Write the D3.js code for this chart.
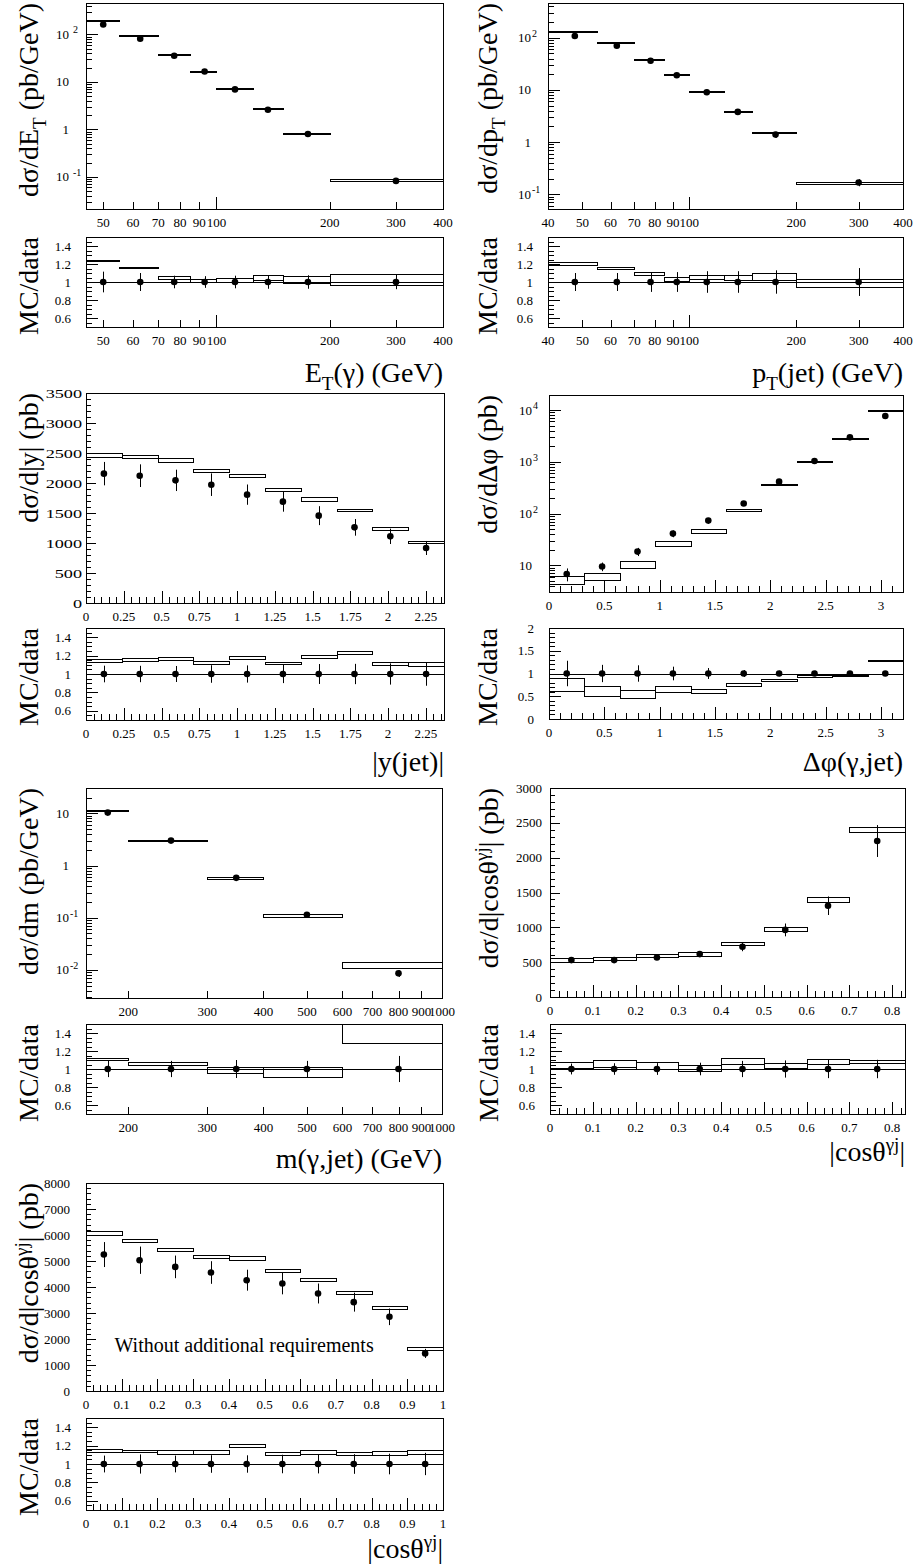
<!DOCTYPE html>
<html>
<head>
<meta charset="utf-8">
<script src="https://cdn.jsdelivr.net/npm/d3@7"></script>
<style>
  body { margin: 0; background: #fff; }
  svg { display: block; }
  text { font-family: "Liberation Serif", "Times New Roman", serif; fill: #000; }
</style>
</head>
<body>
<svg id="chart" width="918" height="1568"></svg>
<script>
// ---------- E_T(gamma) ----------
const etEdges = [45, 55, 70, 85, 100, 125, 150, 200, 400];
const etCentres = [50, 62.7, 77.2, 93, 112, 137, 175, 300];
const etData = [162, 81, 35.5, 16.6, 6.95, 2.59, 0.80, 0.082];
const etRelErr = [0.115, 0.10, 0.07, 0.065, 0.07, 0.075, 0.075, 0.08];
const etMcLo = [197, 95, 37.5, 16.9, 7.1, 2.68, 0.81, 0.081];
const etMcHi = [203, 99, 38.5, 17.3, 7.3, 2.76, 0.83, 0.089];
const etRatioLo = [1.232, 1.152, 1.033, 1.004, 1.004, 1.026, 0.993, 0.972];
const etRatioHi = [1.242, 1.162, 1.062, 1.035, 1.048, 1.080, 1.066, 1.092];
const etTickLabels = [50, 60, 70, 80, 90, 100, 200, 300, 400];

// ---------- p_T(jet) ----------
const ptEdges = [40, 55, 70, 85, 100, 125, 150, 200, 400];
const ptCentres = [47.6, 62.5, 77.8, 92.2, 112, 137, 175, 300];
const ptData = [108, 70.6, 36.4, 19.1, 9.04, 3.79, 1.39, 0.168];
const ptRelErr = [0.10, 0.10, 0.11, 0.11, 0.12, 0.12, 0.13, 0.155];
const ptMcLo = [128, 81, 38.8, 19.7, 9.4, 3.9, 1.49, 0.160];
const ptMcHi = [134, 83, 39.8, 20.3, 9.7, 4.02, 1.55, 0.174];
const ptRatioLo = [1.194, 1.146, 1.081, 1.011, 1.030, 1.019, 1.026, 0.939];
const ptRatioHi = [1.219, 1.164, 1.109, 1.055, 1.081, 1.073, 1.103, 1.037];
const ptTickLabels = [40, 50, 60, 70, 80, 90, 100, 200, 300, 400];

// ---------- |y(jet)| ----------
const yjEdges = [0, 0.237, 0.474, 0.711, 0.948, 1.185, 1.422, 1.659, 1.896, 2.133, 2.37];
const yjCentres = [0.1185, 0.3555, 0.5925, 0.8295, 1.0665, 1.3035, 1.5405, 1.7775, 2.0145, 2.2515];
const yjData = [2156, 2122, 2044, 1972, 1806, 1689, 1456, 1261, 1111, 917];
const yjErr = [195, 189, 178, 188, 169, 167, 158, 139, 128, 117];
const yjMcLo = [2433, 2411, 2356, 2178, 2094, 1861, 1706, 1528, 1222, 1000];
const yjMcHi = [2500, 2467, 2422, 2239, 2150, 1917, 1761, 1572, 1261, 1039];
const yjRatioLo = [1.135, 1.142, 1.153, 1.105, 1.164, 1.105, 1.171, 1.215, 1.098, 1.091];
const yjRatioHi = [1.160, 1.171, 1.189, 1.142, 1.196, 1.135, 1.207, 1.250, 1.135, 1.135];

// ---------- delta phi ----------
const dphiEdges = [0, 0.32, 0.64, 0.96, 1.28, 1.6, 1.92, 2.24, 2.56, 2.88, 3.2];
const dphiCentres = [0.16, 0.48, 0.80, 1.12, 1.44, 1.76, 2.08, 2.40, 2.72, 3.04];
const dphiData = [6.8, 9.5, 18.4, 41, 73, 156, 413, 1036, 2966, 7660];
const dphiRelErr = [0.28, 0.19, 0.18, 0.15, 0.12, 0.075, 0.06, 0.06, 0.04, 0.02];
const dphiMcLo = [4.3, 5.1, 8.8, 24, 42.8, 113, 357, 970, 2780, 9800];
const dphiMcHi = [6.3, 7.2, 12.2, 29.6, 49.7, 122, 378, 1030, 2900, 10200];
const dphiRatioLo = [0.62, 0.515, 0.47, 0.59, 0.58, 0.735, 0.845, 0.93, 0.94, 1.285];
const dphiRatioHi = [0.91, 0.735, 0.63, 0.72, 0.655, 0.79, 0.89, 0.96, 0.96, 1.295];

// ---------- m(gamma,jet) ----------
const massEdges = [161, 200, 300, 400, 600, 1000];
const massCentres = [180, 249, 348, 500, 800];
const massData = [10.3, 3.0, 0.58, 0.114, 0.0086];
const massRelErr = [0.09, 0.09, 0.10, 0.09, 0.145];
const massMcLo = [11.0, 3.05, 0.55, 0.101, 0.0109];
const massMcHi = [11.4, 3.13, 0.60, 0.116, 0.0140];
const massRatioLo = [1.098, 1.044, 0.953, 0.916, 1.29];
const massRatioHi = [1.127, 1.073, 1.025, 1.025, 1.62];
const massTickLabels = [200, 300, 400, 500, 600, 700, 800, 900, 1000];

// ---------- |cos theta| (with cuts) ----------
const cosEdges = [0, 0.1, 0.2, 0.3, 0.4, 0.5, 0.6, 0.7, 0.83];
const cosCentres = [0.05, 0.15, 0.25, 0.35, 0.45, 0.55, 0.65, 0.765];
const cosData = [530, 530, 568, 616, 722, 963, 1310, 2239];
const cosErr = [32, 34, 37, 43, 65, 92, 133, 229];
const cosMcLo = [506, 530, 568, 592, 751, 953, 1363, 2374];
const cosMcHi = [563, 578, 616, 640, 795, 1011, 1430, 2446];
const cosRatioLo = [1.007, 1.018, 1.0, 0.98, 1.055, 1.007, 1.055, 1.062];
const cosRatioHi = [1.073, 1.098, 1.073, 1.047, 1.127, 1.062, 1.109, 1.098];

// ---------- |cos theta| (no extra cuts) ----------
const cosAllEdges = [0, 0.1, 0.2, 0.3, 0.4, 0.5, 0.6, 0.7, 0.8, 0.9, 1.0];
const cosAllCentres = [0.05, 0.15, 0.25, 0.35, 0.45, 0.55, 0.65, 0.75, 0.85, 0.95];
const cosAllData = [5248, 5030, 4774, 4557, 4262, 4134, 3750, 3418, 2854, 1446];
const cosAllErr = [480, 525, 435, 435, 403, 416, 384, 365, 320, 175];
const cosAllMcLo = [6016, 5734, 5376, 5120, 5056, 4570, 4224, 3750, 3162, 1574];
const cosAllMcHi = [6144, 5862, 5504, 5248, 5184, 4698, 4352, 3853, 3264, 1677];
const cosAllRatioLo = [1.130, 1.126, 1.112, 1.112, 1.184, 1.094, 1.112, 1.094, 1.100, 1.105];
const cosAllRatioHi = [1.166, 1.155, 1.148, 1.148, 1.213, 1.130, 1.155, 1.130, 1.137, 1.155];

const TITLE_SIZE = 28;
const TICK_SIZE = 13;

const svg = d3.select("#chart");
svg.append("rect").attr("width", 918).attr("height", 1568).attr("fill", "#fff");
const defs = svg.append("defs");
let clipId = 0;

const px = v => Math.round(v) + 0.5;

// Text with sub/superscript pieces
function richText(sel, parts, size) {
  let shift = 0;
  parts.forEach(p => {
    const target = p.sub ? size * 0.3 : (p.sup ? -size * 0.36 : 0);
    sel.append("tspan")
      .attr("dy", target - shift)
      .style("font-size", (p.sub || p.sup) ? (size * 0.68) + "px" : size + "px")
      .text(p.t);
    shift = target;
  });
}

function fmtNum(v) { return String(+v.toFixed(3)); }

function linValues(lo, hi, step) {
  const out = [];
  const n0 = Math.ceil(lo / step - 1e-6), n1 = Math.floor(hi / step + 1e-6);
  for (let n = n0; n <= n1; n++) out.push(+(n * step).toFixed(6));
  return out;
}

function logValues(domain) {
  const out = [];
  const e0 = Math.floor(Math.log10(domain[0])), e1 = Math.ceil(Math.log10(domain[1]));
  for (let e = e0; e <= e1; e++) for (let k = 1; k < 10; k++) {
    const v = +(k * Math.pow(10, e)).toPrecision(6);
    if (v >= domain[0] * 0.9999 && v <= domain[1] * 1.0001) out.push({ v, major: k === 1, e });
  }
  return out;
}

function clipFor(x0, y0, x1, y1) {
  const id = "clip" + (clipId++);
  defs.append("clipPath").attr("id", id).append("rect")
    .attr("x", x0).attr("y", y0).attr("width", x1 - x0).attr("height", y1 - y0);
  return "url(#" + id + ")";
}

function xAxisTicks(g, P, xs, yBottom) {
  if (P.xLog) {
    P.xTickVals.forEach(v => {
      const isDecade = Math.abs(Math.log10(v) - Math.round(Math.log10(v))) < 1e-9;
      const len = isDecade ? 12 : 7;
      g.append("line").attr("x1", px(xs(v))).attr("x2", px(xs(v)))
        .attr("y1", yBottom).attr("y2", yBottom - len).attr("stroke", "#000");
    });
  } else {
    linValues(P.xDomain[0], P.xDomain[1], P.xMinor).forEach(v => {
      const major = Math.abs(v / P.xStep - Math.round(v / P.xStep)) < 1e-6;
      g.append("line").attr("x1", px(xs(v))).attr("x2", px(xs(v)))
        .attr("y1", yBottom).attr("y2", yBottom - (major ? 12 : 6)).attr("stroke", "#000");
    });
  }
}

function xAxisLabels(g, P, xs, yBase) {
  const vals = P.xLog ? P.xTickVals : linValues(P.xDomain[0], P.xDomain[1], P.xStep);
  vals.forEach(v => {
    g.append("text").attr("x", xs(v)).attr("y", yBase)
      .attr("text-anchor", "middle").style("font-size", TICK_SIZE + "px").text(fmtNum(v));
  });
}

function drawPanel(P) {
  const b = P.box;
  const g = svg.append("g");
  const xs = (P.xLog ? d3.scaleLog() : d3.scaleLinear()).domain(P.xDomain).range([b.x0, b.x1]);
  const ys = (P.yLog ? d3.scaleLog() : d3.scaleLinear()).domain(P.yDomain).range([b.my1, b.my0]);
  const rs = d3.scaleLinear().domain(P.rDomain).range([b.ry1, b.ry0]);
  const relErr = P.errAbs ? P.errAbs.map((e, i) => e / P.data[i]) : P.relErr;

  // ---- main pad ----
  const main = g.append("g");
  const mainClip = main.append("g").attr("clip-path", clipFor(b.x0, b.my0, b.x1, b.my1));
  P.mcLo.forEach((lo, i) => {
    const yTop = px(ys(P.mcHi[i])), yBot = px(ys(lo));
    mainClip.append("rect")
      .attr("x", px(xs(P.edges[i]))).attr("y", yTop)
      .attr("width", px(xs(P.edges[i + 1])) - px(xs(P.edges[i])))
      .attr("height", Math.max(yBot - yTop, 1))
      .attr("fill", "none").attr("stroke", "#000").attr("stroke-width", 1);
  });
  P.data.forEach((v, i) => {
    const e = v * relErr[i];
    mainClip.append("line").attr("x1", px(xs(P.centres[i]))).attr("x2", px(xs(P.centres[i])))
      .attr("y1", ys(v - e)).attr("y2", ys(v + e)).attr("stroke", "#000").attr("stroke-width", 1);
    mainClip.append("circle").attr("cx", xs(P.centres[i])).attr("cy", ys(v)).attr("r", 3.3).attr("fill", "#000");
  });

  // y ticks + labels (main)
  if (P.yLog) {
    logValues(P.yDomain).forEach(t => {
      const y = px(ys(t.v));
      main.append("line").attr("x1", b.x0).attr("x2", b.x0 + (t.major ? 12 : 6))
        .attr("y1", y).attr("y2", y).attr("stroke", "#000");
      if (t.major) {
        const baseX = b.x0 - 17;
        main.append("text").attr("x", baseX).attr("y", ys(t.v) + 4.5).attr("text-anchor", "end")
          .style("font-size", TICK_SIZE + "px").text(t.e === 0 ? "1" : "10");
        if (t.e !== 0 && t.e !== 1) {
          main.append("text").attr("x", baseX + (P.supGap || 1)).attr("y", ys(t.v) - 1)
            .style("font-size", "10px").text(String(t.e));
        }
      }
    });
  } else {
    linValues(P.yDomain[0], P.yDomain[1], P.yMinor).forEach(v => {
      const major = Math.abs(v / P.yStep - Math.round(v / P.yStep)) < 1e-6;
      const y = px(ys(v));
      main.append("line").attr("x1", b.x0).attr("x2", b.x0 + (major ? 10 : 5))
        .attr("y1", y).attr("y2", y).attr("stroke", "#000");
      if (major) {
        const lx = b.x0 - P.yLabelGap;
        main.append("text")
          .attr("transform", `translate(${lx},${ys(v) + 4.5}) scale(${P.yLabelStretch || 1},1)`)
          .attr("text-anchor", "end").style("font-size", TICK_SIZE + "px").text(fmtNum(v));
      }
    });
  }
  xAxisTicks(main, P, xs, b.my1);
  xAxisLabels(main, P, xs, b.my1 + 18);
  main.append("rect").attr("x", px(b.x0)).attr("y", px(b.my0))
    .attr("width", Math.round(b.x1) - Math.round(b.x0)).attr("height", Math.round(b.my1) - Math.round(b.my0))
    .attr("fill", "none").attr("stroke", "#000");

  const yt = main.append("text")
    .attr("transform", `translate(${b.x0 - P.yTitleOffset},${b.my0}) rotate(-90)`)
    .attr("text-anchor", "end").style("font-size", TITLE_SIZE + "px");
  richText(yt, P.yTitle, TITLE_SIZE);

  if (P.note) {
    main.append("text").attr("x", xs(P.note.x)).attr("y", ys(P.note.y))
      .style("font-size", "20px").text(P.note.text);
  }

  // ---- ratio pad ----
  const rat = g.append("g");
  const ratClip = rat.append("g").attr("clip-path", clipFor(b.x0, b.ry0, b.x1, b.ry1));
  P.rLo.forEach((lo, i) => {
    const yTop = px(rs(P.rHi[i])), yBot = px(rs(lo));
    ratClip.append("rect")
      .attr("x", px(xs(P.edges[i]))).attr("y", yTop)
      .attr("width", px(xs(P.edges[i + 1])) - px(xs(P.edges[i])))
      .attr("height", Math.max(yBot - yTop, 1))
      .attr("fill", "none").attr("stroke", "#000").attr("stroke-width", 1);
  });
  ratClip.append("line").attr("x1", b.x0).attr("x2", b.x1)
    .attr("y1", px(rs(1))).attr("y2", px(rs(1))).attr("stroke", "#000");
  P.data.forEach((v, i) => {
    const e = relErr[i];
    ratClip.append("line").attr("x1", px(xs(P.centres[i]))).attr("x2", px(xs(P.centres[i])))
      .attr("y1", rs(1 - e)).attr("y2", rs(1 + e)).attr("stroke", "#000");
    ratClip.append("circle").attr("cx", xs(P.centres[i])).attr("cy", rs(1)).attr("r", 3.3).attr("fill", "#000");
  });
  linValues(P.rDomain[0], P.rDomain[1], P.rMinor).forEach(v => {
    const major = Math.abs(v / P.rStep - Math.round(v / P.rStep)) < 1e-6;
    const y = px(rs(v));
    rat.append("line").attr("x1", b.x0).attr("x2", b.x0 + (major ? 12 : 6))
      .attr("y1", y).attr("y2", y).attr("stroke", "#000");
    if (major && v >= P.rLabelRange[0] - 1e-6 && v <= P.rLabelRange[1] + 1e-6) {
      rat.append("text").attr("x", b.x0 - 15).attr("y", rs(v) + 4.5).attr("text-anchor", "end")
        .style("font-size", TICK_SIZE + "px").text(fmtNum(v));
    }
  });
  xAxisTicks(rat, P, xs, b.ry1);
  xAxisLabels(rat, P, xs, b.ry1 + 18);
  rat.append("rect").attr("x", px(b.x0)).attr("y", px(b.ry0))
    .attr("width", Math.round(b.x1) - Math.round(b.x0)).attr("height", Math.round(b.ry1) - Math.round(b.ry0))
    .attr("fill", "none").attr("stroke", "#000");

  const rt = rat.append("text")
    .attr("transform", `translate(${b.x0 - P.yTitleOffset},${b.ry0}) rotate(-90)`)
    .attr("text-anchor", "end").style("font-size", TITLE_SIZE + "px");
  richText(rt, [{ t: "MC/data" }], TITLE_SIZE);

  const xt = rat.append("text").attr("x", b.x1).attr("y", P.xTitleY)
    .attr("text-anchor", "end").style("font-size", TITLE_SIZE + "px");
  richText(xt, P.xTitle, TITLE_SIZE);
}

const ratioStd = { rDomain: [0.5, 1.5], rStep: 0.2, rMinor: 0.05, rLabelRange: [0.6, 1.4] };
const cosTitle = [{ t: "dσ/d|cosθ" }, { t: "γj", sup: true }, { t: "| (pb)" }];
const cosXTitle = [{ t: "|cosθ" }, { t: "γj", sup: true }, { t: "|" }];

const panels = [
  Object.assign({
    box: { x0: 86, x1: 443, my0: 3, my1: 209, ry0: 237, ry1: 327 },
    xLog: true, xDomain: [45, 400], xTickVals: etTickLabels,
    yLog: true, yDomain: [0.021, 460],
    edges: etEdges, centres: etCentres, data: etData, relErr: etRelErr,
    mcLo: etMcLo, mcHi: etMcHi, rLo: etRatioLo, rHi: etRatioHi,
    yTitle: [{ t: "dσ/dE" }, { t: "T", sub: true }, { t: " (pb/GeV)" }],
    xTitle: [{ t: "E" }, { t: "T", sub: true }, { t: "(γ) (GeV)" }],
    xTitleY: 382, yTitleOffset: 48, supGap: 4
  }, ratioStd),
  Object.assign({
    box: { x0: 548, x1: 903, my0: 3, my1: 209, ry0: 237, ry1: 327 },
    xLog: true, xDomain: [40, 400], xTickVals: ptTickLabels,
    yLog: true, yDomain: [0.052, 465],
    edges: ptEdges, centres: ptCentres, data: ptData, relErr: ptRelErr,
    mcLo: ptMcLo, mcHi: ptMcHi, rLo: ptRatioLo, rHi: ptRatioHi,
    yTitle: [{ t: "dσ/dp" }, { t: "T", sub: true }, { t: " (pb/GeV)" }],
    xTitle: [{ t: "p" }, { t: "T", sub: true }, { t: "(jet) (GeV)" }],
    xTitleY: 382, yTitleOffset: 51
  }, ratioStd),
  Object.assign({
    box: { x0: 86, x1: 444, my0: 393, my1: 603, ry0: 628, ry1: 720 },
    xLog: false, xDomain: [0, 2.37], xStep: 0.25, xMinor: 0.05,
    yLog: false, yDomain: [0, 3500], yStep: 500, yMinor: 100, yLabelGap: 4, yLabelStretch: 1.4,
    edges: yjEdges, centres: yjCentres, data: yjData, errAbs: yjErr,
    mcLo: yjMcLo, mcHi: yjMcHi, rLo: yjRatioLo, rHi: yjRatioHi,
    yTitle: [{ t: "dσ/d|y| (pb)" }],
    xTitle: [{ t: "|y(jet)|" }],
    xTitleY: 771, yTitleOffset: 48
  }, ratioStd),
  {
    box: { x0: 549, x1: 903, my0: 395, my1: 592, ry0: 628, ry1: 719 },
    xLog: false, xDomain: [0, 3.2], xStep: 0.5, xMinor: 0.1,
    yLog: true, yDomain: [3.05, 19500],
    edges: dphiEdges, centres: dphiCentres, data: dphiData, relErr: dphiRelErr,
    mcLo: dphiMcLo, mcHi: dphiMcHi, rLo: dphiRatioLo, rHi: dphiRatioHi,
    rDomain: [0, 2], rStep: 0.5, rMinor: 0.1, rLabelRange: [0, 2],
    yTitle: [{ t: "dσ/dΔφ (pb)" }],
    xTitle: [{ t: "Δφ(γ,jet)" }],
    xTitleY: 771, yTitleOffset: 52
  },
  Object.assign({
    box: { x0: 86, x1: 442, my0: 788, my1: 998, ry0: 1024, ry1: 1114 },
    xLog: true, xDomain: [161, 1000], xTickVals: massTickLabels,
    yLog: true, yDomain: [0.0029, 30.5],
    edges: massEdges, centres: massCentres, data: massData, relErr: massRelErr,
    mcLo: massMcLo, mcHi: massMcHi, rLo: massRatioLo, rHi: massRatioHi,
    yTitle: [{ t: "dσ/dm (pb/GeV)" }],
    xTitle: [{ t: "m(γ,jet) (GeV)" }],
    xTitleY: 1168, yTitleOffset: 48
  }, ratioStd),
  Object.assign({
    box: { x0: 550, x1: 905, my0: 788, my1: 997, ry0: 1024, ry1: 1114 },
    xLog: false, xDomain: [0, 0.83], xStep: 0.1, xMinor: 0.02,
    yLog: false, yDomain: [0, 3000], yStep: 500, yMinor: 100, yLabelGap: 8,
    edges: cosEdges, centres: cosCentres, data: cosData, errAbs: cosErr,
    mcLo: cosMcLo, mcHi: cosMcHi, rLo: cosRatioLo, rHi: cosRatioHi,
    yTitle: cosTitle, xTitle: cosXTitle,
    xTitleY: 1161, yTitleOffset: 52
  }, ratioStd),
  Object.assign({
    box: { x0: 86, x1: 443, my0: 1183, my1: 1391, ry0: 1418, ry1: 1510 },
    xLog: false, xDomain: [0, 1], xStep: 0.1, xMinor: 0.02,
    yLog: false, yDomain: [0, 8000], yStep: 1000, yMinor: 200, yLabelGap: 16,
    edges: cosAllEdges, centres: cosAllCentres, data: cosAllData, errAbs: cosAllErr,
    mcLo: cosAllMcLo, mcHi: cosAllMcHi, rLo: cosAllRatioLo, rHi: cosAllRatioHi,
    yTitle: cosTitle, xTitle: cosXTitle,
    xTitleY: 1558, yTitleOffset: 48,
    note: { text: "Without additional requirements", x: 0.08, y: 1500 }
  }, ratioStd)
];

panels.forEach(drawPanel);
</script>
</body>
</html>
